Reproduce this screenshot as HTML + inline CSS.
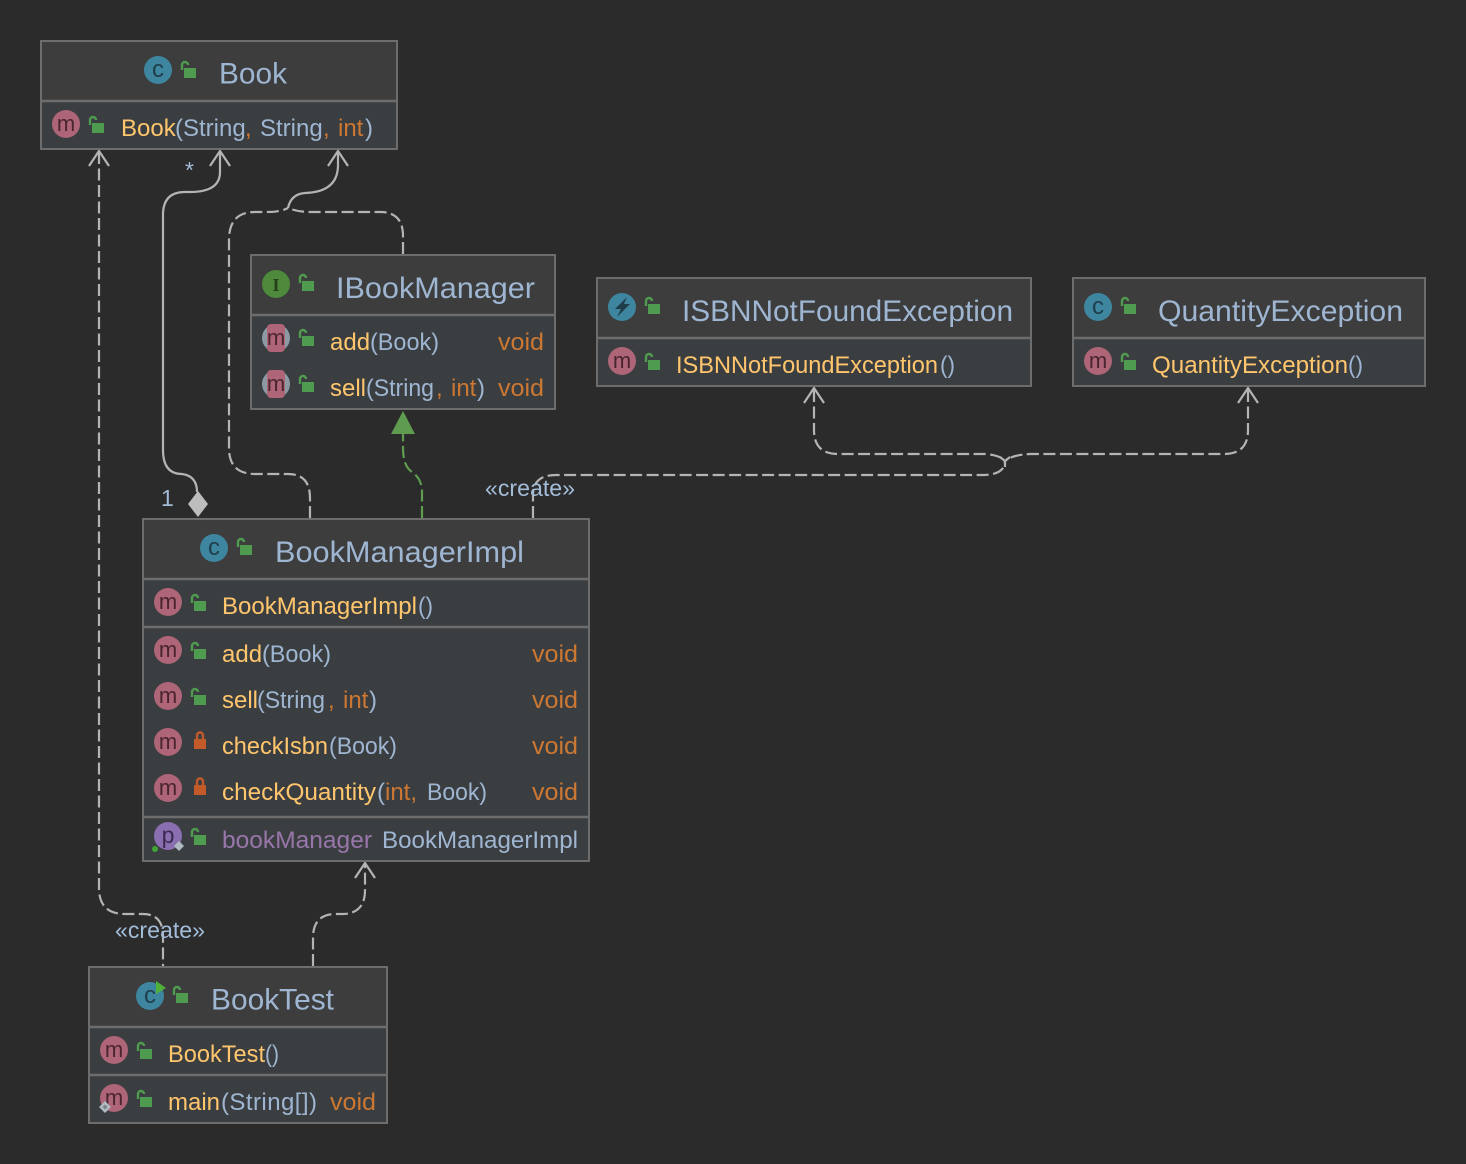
<!DOCTYPE html>
<html><head><meta charset="utf-8">
<style>
html,body{margin:0;padding:0;background:#2b2b2b;}
svg{display:block;}
text{font-family:"Liberation Sans",sans-serif;}
.t{font-size:30px;fill:#9fb6d2;}
.y{font-size:24px;fill:#ffc66d;}
.b{font-size:24px;fill:#9fb6d2;}
.o{font-size:24px;fill:#cc7832;}
.p{font-size:24px;fill:#9876aa;}
.l{font-size:23px;fill:#a3bcd8;}
.ic{font-size:24px;fill:#1f3d4a;text-anchor:middle;}
.im{font-size:22px;fill:#4a2530;text-anchor:middle;}
.c{fill:#3e86a0;}.m{fill:#ad6577;}
.box{stroke:#6d6d6d;stroke-width:2;fill:#3b3e41;}
.hd{fill:#3d3d3d;}
.sep{stroke:#6d6d6d;stroke-width:2.5;}
.cn{fill:none;stroke:#b4b4b4;stroke-width:2.2;}
.da{stroke-dasharray:12 4.5;}
</style></head>
<body>
<svg width="1466" height="1164" viewBox="0 0 1466 1164" xmlns="http://www.w3.org/2000/svg">
<defs>
<g id="lk"><rect x="0" y="0" width="12" height="10" fill="#4f9b4f"/><path d="M-2 2V-3a3 3 0 0 1 6 0" fill="none" stroke="#4f9b4f" stroke-width="2.4"/></g>
<g id="pk"><rect x="0" y="0" width="12" height="10" fill="#c35a2a"/><path d="M3 1V-3.500a3 3 0 0 1 6 0V1" fill="none" stroke="#c35a2a" stroke-width="2.4"/></g>
</defs>
<rect width="1466" height="1164" fill="#2b2b2b"/>

<!-- Connectors -->
<path class="cn da" d="M99 152V888Q99 914 125 914H143Q163 914 163 936V966"/>
<path class="cn" d="M220 152V172Q220 192 190 192H185Q163 192 163 215V450Q163 474 182 474Q197 476 197 492"/>
<path class="cn da" d="M310 518V498Q310 474 288 474H255Q229 474 229 448V240Q229 212 255 212H268Q280 212 288 208"/>
<path class="cn da" d="M403 254V236Q403 212 380 212H310Q298 212 288 208"/>
<path class="cn" d="M288 208Q291 194 305 193Q338 192 338 165V152"/>
<path d="M422 518V490Q421 478 412 472Q403 466 403 448V434" fill="none" stroke="#5f9c50" stroke-width="2.2" stroke-dasharray="12 4.5"/>
<path class="cn da" d="M533 518V495Q533 475 556 475H985Q1005 474 1005 461"/>
<path class="cn da" d="M814 390V430Q814 454 838 454H985Q1000 455 1005 461"/>
<path class="cn da" d="M1248 390V430Q1248 454 1224 454H1030Q1012 455 1005 461"/>
<path class="cn" d="M1000 457L1005 461L1010 457M1005 461V467"/>

<path class="cn da" d="M313 966V938Q313 914 336 914H342Q365 914 365 890V864"/>

<!-- Arrowheads -->
<path class="cn" d="M89 166L99 151L109 166"/>
<path class="cn" d="M210 166L220 151L230 166"/>
<path class="cn" d="M328 166L338 151L348 166"/>
<path class="cn" d="M804 403L814 388L824 403"/>
<path class="cn" d="M1238 403L1248 388L1258 403"/>
<path class="cn" d="M355 878L365 863L375 878"/>
<path d="M403 411L415 434H391Z" fill="#5f9c50"/>
<path d="M198 491L208 504L198 517L188 504Z" fill="#bdbdbd"/>

<!-- Book -->
<rect class="box" x="41" y="41" width="356" height="108"/>
<rect class="hd" x="42" y="42" width="354" height="59"/>
<line class="sep" x1="42" x2="396" y1="101" y2="101"/>
<circle class="c" cx="158" cy="70" r="14"/><text class="ic" x="158" y="77">c</text>
<use href="#lk" x="184" y="68"/>
<text class="t" x="219" y="83.500" textLength="68" lengthAdjust="spacingAndGlyphs">Book</text>
<circle class="m" cx="66" cy="124" r="14"/><text class="im" x="66" y="131">m</text>
<use href="#lk" x="92" y="123"/>
<text y="136"><tspan class="y" x="121">Book</tspan><tspan class="b" x="175">(String</tspan><tspan class="o" x="245">,</tspan><tspan class="b" x="260">String</tspan><tspan class="o" x="323">,</tspan><tspan class="o" x="338">int</tspan><tspan class="b" x="365">)</tspan></text>

<!-- IBookManager -->
<rect class="box" x="251" y="255" width="304" height="154"/>
<rect class="hd" x="252" y="256" width="302" height="59"/>
<line class="sep" x1="252" x2="554" y1="315" y2="315"/>
<circle cx="276" cy="284" r="14" fill="#4f8a3c"/><text x="276" y="291" text-anchor="middle" style="font-family:'Liberation Serif',serif;font-size:18px;font-weight:bold;fill:#253f1d">I</text>
<use href="#lk" x="302" y="281"/>
<text class="t" x="336" y="298" textLength="199" lengthAdjust="spacingAndGlyphs">IBookManager</text>
<circle cx="276" cy="338" r="14" fill="#8c9aa5"/><rect x="267" y="324" width="18" height="28" rx="4" class="m"/><text class="im" x="276" y="345">m</text>
<use href="#lk" x="302" y="336"/>
<text y="350"><tspan class="y" x="330">add</tspan><tspan class="b" x="370" textLength="69" lengthAdjust="spacingAndGlyphs">(Book)</tspan><tspan class="o" x="498" textLength="46" lengthAdjust="spacingAndGlyphs">void</tspan></text>
<circle cx="276" cy="384" r="14" fill="#8c9aa5"/><rect x="267" y="370" width="18" height="28" rx="4" class="m"/><text class="im" x="276" y="391">m</text>
<use href="#lk" x="302" y="382"/>
<text y="396"><tspan class="y" x="330">sell</tspan><tspan class="b" x="366" textLength="68" lengthAdjust="spacingAndGlyphs">(String</tspan><tspan class="o" x="436">,</tspan><tspan class="o" x="451">int</tspan><tspan class="b" x="477">)</tspan><tspan class="o" x="498" textLength="46" lengthAdjust="spacingAndGlyphs">void</tspan></text>

<!-- ISBNNotFoundException -->
<rect class="box" x="597" y="278" width="434" height="108"/>
<rect class="hd" x="598" y="279" width="432" height="59"/>
<line class="sep" x1="598" x2="1030" y1="338" y2="338"/>
<circle class="c" cx="622" cy="307" r="14"/><path d="M627 297L615 309H621L617 317L630 304H624Z" fill="#1f3d4a"/>
<use href="#lk" x="648" y="304"/>
<text class="t" x="682" y="321" textLength="331" lengthAdjust="spacingAndGlyphs">ISBNNotFoundException</text>
<circle class="m" cx="622" cy="361" r="14"/><text class="im" x="622" y="368">m</text>
<use href="#lk" x="648" y="360"/>
<text y="373"><tspan class="y" x="676" textLength="262" lengthAdjust="spacingAndGlyphs">ISBNNotFoundException</tspan><tspan class="b" x="940" textLength="15" lengthAdjust="spacingAndGlyphs">()</tspan></text>

<!-- QuantityException -->
<rect class="box" x="1073" y="278" width="352" height="108"/>
<rect class="hd" x="1074" y="279" width="350" height="59"/>
<line class="sep" x1="1074" x2="1424" y1="338" y2="338"/>
<circle class="c" cx="1098" cy="307" r="14"/><text class="ic" x="1098" y="314">c</text>
<use href="#lk" x="1124" y="304"/>
<text class="t" x="1158" y="321" textLength="245" lengthAdjust="spacingAndGlyphs">QuantityException</text>
<circle class="m" cx="1098" cy="361" r="14"/><text class="im" x="1098" y="368">m</text>
<use href="#lk" x="1124" y="360"/>
<text y="373"><tspan class="y" x="1152" textLength="196" lengthAdjust="spacingAndGlyphs">QuantityException</tspan><tspan class="b" x="1348" textLength="15" lengthAdjust="spacingAndGlyphs">()</tspan></text>

<!-- BookManagerImpl -->
<rect class="box" x="143" y="519" width="446" height="342"/>
<rect class="hd" x="144" y="520" width="444" height="59"/>
<line class="sep" x1="144" x2="588" y1="579" y2="579"/>
<line class="sep" x1="144" x2="588" y1="627" y2="627"/>
<line class="sep" x1="144" x2="588" y1="817" y2="817"/>
<circle class="c" cx="214" cy="548" r="14"/><text class="ic" x="214" y="555">c</text>
<use href="#lk" x="240" y="545"/>
<text class="t" x="275" y="562" textLength="249" lengthAdjust="spacingAndGlyphs">BookManagerImpl</text>

<circle class="m" cx="168" cy="602" r="14"/><text class="im" x="168" y="609">m</text>
<use href="#lk" x="194" y="601"/>
<text y="614"><tspan class="y" x="222" textLength="195" lengthAdjust="spacingAndGlyphs">BookManagerImpl</tspan><tspan class="b" x="418" textLength="15" lengthAdjust="spacingAndGlyphs">()</tspan></text>

<circle class="m" cx="168" cy="650" r="14"/><text class="im" x="168" y="657">m</text>
<use href="#lk" x="194" y="649"/>
<text y="662"><tspan class="y" x="222">add</tspan><tspan class="b" x="262" textLength="69" lengthAdjust="spacingAndGlyphs">(Book)</tspan><tspan class="o" x="532" textLength="46" lengthAdjust="spacingAndGlyphs">void</tspan></text>

<circle class="m" cx="168" cy="696" r="14"/><text class="im" x="168" y="703">m</text>
<use href="#lk" x="194" y="695"/>
<text y="708"><tspan class="y" x="222">sell</tspan><tspan class="b" x="257" textLength="68" lengthAdjust="spacingAndGlyphs">(String</tspan><tspan class="o" x="328">,</tspan><tspan class="o" x="343">int</tspan><tspan class="b" x="369">)</tspan><tspan class="o" x="532" textLength="46" lengthAdjust="spacingAndGlyphs">void</tspan></text>

<circle class="m" cx="168" cy="742" r="14"/><text class="im" x="168" y="749">m</text>
<use href="#pk" x="194" y="739"/>
<text y="754"><tspan class="y" x="222" textLength="106" lengthAdjust="spacingAndGlyphs">checkIsbn</tspan><tspan class="b" x="329" textLength="68" lengthAdjust="spacingAndGlyphs">(Book)</tspan><tspan class="o" x="532" textLength="46" lengthAdjust="spacingAndGlyphs">void</tspan></text>

<circle class="m" cx="168" cy="788" r="14"/><text class="im" x="168" y="795">m</text>
<use href="#pk" x="194" y="785"/>
<text y="800"><tspan class="y" x="222" textLength="154" lengthAdjust="spacingAndGlyphs">checkQuantity</tspan><tspan class="b" x="377">(</tspan><tspan class="o" x="385">int,</tspan><tspan class="b" x="427" textLength="60" lengthAdjust="spacingAndGlyphs">Book)</tspan><tspan class="o" x="532" textLength="46" lengthAdjust="spacingAndGlyphs">void</tspan></text>

<circle cx="168" cy="836" r="14" fill="#8a6fb0"/><text x="168" y="843" text-anchor="middle" style="font-size:23px;fill:#3a2a50">p</text>
<circle cx="155" cy="849" r="3" fill="#3fa535"/>
<path d="M179 841L184 846L179 851L174 846Z" fill="#aeb9c2"/>
<use href="#lk" x="194" y="835"/>
<text y="848"><tspan class="p" x="222" textLength="150" lengthAdjust="spacingAndGlyphs">bookManager</tspan><tspan class="b" x="382" textLength="196" lengthAdjust="spacingAndGlyphs">BookManagerImpl</tspan></text>

<!-- BookTest -->
<rect class="box" x="89" y="967" width="298" height="156"/>
<rect class="hd" x="90" y="968" width="296" height="59"/>
<line class="sep" x1="90" x2="386" y1="1027" y2="1027"/>
<line class="sep" x1="90" x2="386" y1="1075" y2="1075"/>
<circle class="c" cx="150" cy="996" r="14"/><text class="ic" x="150" y="1003">c</text>
<path d="M156 981L166 988L156 994Z" fill="#4fb03a"/>
<use href="#lk" x="176" y="993"/>
<text class="t" x="211" y="1009.500" textLength="123" lengthAdjust="spacingAndGlyphs">BookTest</text>
<circle class="m" cx="114" cy="1050" r="14"/><text class="im" x="114" y="1057">m</text>
<use href="#lk" x="140" y="1049"/>
<text y="1062"><tspan class="y" x="168" textLength="97" lengthAdjust="spacingAndGlyphs">BookTest</tspan><tspan class="b" x="265" textLength="14" lengthAdjust="spacingAndGlyphs">()</tspan></text>
<circle class="m" cx="114" cy="1098" r="14"/><text class="im" x="114" y="1105">m</text>
<path d="M105 1101L111 1107L105 1113L99 1107Z" fill="#aeb9c2"/><path d="M105 1104.500L107.500 1107L105 1109.500L102.500 1107Z" fill="#7d8388"/>
<use href="#lk" x="140" y="1097"/>
<text y="1110"><tspan class="y" x="168">main</tspan><tspan class="b" x="221" textLength="96" lengthAdjust="spacing">(String[])</tspan><tspan class="o" x="330" textLength="46" lengthAdjust="spacingAndGlyphs">void</tspan></text>

<!-- Labels -->
<text class="l" x="485" y="496" textLength="90" lengthAdjust="spacingAndGlyphs">«create»</text>
<text class="l" x="115" y="938" textLength="90" lengthAdjust="spacingAndGlyphs">«create»</text>
<text class="l" x="185" y="178">*</text>
<text class="l" x="161" y="506">1</text>
</svg>
</body></html>
